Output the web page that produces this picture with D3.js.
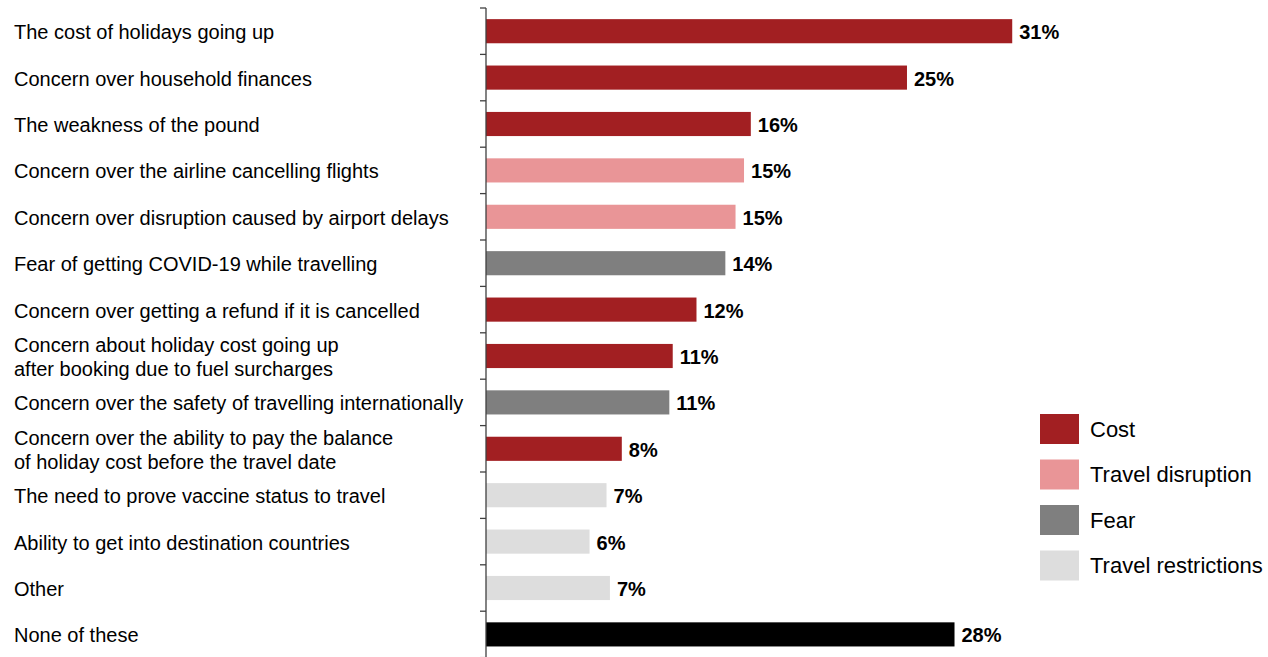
<!DOCTYPE html>
<html>
<head>
<meta charset="utf-8">
<script src="https://cdn.jsdelivr.net/npm/d3@7"></script>
<style>
  html, body { margin: 0; padding: 0; background: #fff; }
  svg { display: block; font-family: "Liberation Sans", Arial, sans-serif; }
</style>
</head>
<body>
<svg id="chart" width="1268" height="657"></svg>
<script>
// Reasons for holiday worries, share of respondents
const categories = [
  "The cost of holidays going up",
  "Concern over household finances",
  "The weakness of the pound",
  "Concern over the airline cancelling flights",
  "Concern over disruption caused by airport delays",
  "Fear of getting COVID-19 while travelling",
  "Concern over getting a refund if it is cancelled",
  "Concern about holiday cost going up\nafter booking due to fuel surcharges",
  "Concern over the safety of travelling internationally",
  "Concern over the ability to pay the balance\nof holiday cost before the travel date",
  "The need to prove vaccine status to travel",
  "Ability to get into destination countries",
  "Other",
  "None of these"
];
const values = [0.310, 0.248, 0.156, 0.152, 0.147, 0.141, 0.124, 0.110, 0.108, 0.080, 0.071, 0.061, 0.073, 0.276];
const groups = ["Cost", "Cost", "Cost", "Travel disruption", "Travel disruption", "Fear", "Cost", "Cost", "Fear", "Cost",
                "Travel restrictions", "Travel restrictions", "Travel restrictions", "None"];
const legendGroups = ["Cost", "Travel disruption", "Fear", "Travel restrictions"];
const groupColors = ["#A21F22", "#E99597", "#7F7F7F", "#DDDDDD", "#000000"];

const svg = d3.select("#chart");
const axisX = 486;

const y = d3.scaleBand()
  .domain(categories)
  .range([8, 657.6])
  .paddingInner(0.48)
  .paddingOuter(0.24);

const x = d3.scaleLinear()
  .domain([0, 0.4])
  .range([axisX, axisX + 679]);

const color = d3.scaleOrdinal()
  .domain(["Cost", "Travel disruption", "Fear", "Travel restrictions", "None"])
  .range(groupColors);

const rows = categories.map((c, i) => ({ cat: c, value: values[i], group: groups[i] }));

// bars
svg.append("g").selectAll("rect")
  .data(rows)
  .join("rect")
  .attr("x", x(0))
  .attr("y", d => y(d.cat))
  .attr("width", d => x(d.value) - x(0))
  .attr("height", y.bandwidth())
  .attr("fill", d => color(d.group));

// value labels
const fmt = d3.format(".0%");
svg.append("g").selectAll("text")
  .data(rows)
  .join("text")
  .attr("x", d => x(d.value) + 7)
  .attr("y", d => y(d.cat) + y.bandwidth() / 2 + 1)
  .attr("dy", "0.35em")
  .attr("font-size", 20)
  .attr("font-weight", "bold")
  .attr("fill", "#000")
  .text(d => fmt(d.value));

// category axis: vertical line with ticks between categories
const step = y.step();
const tickYs = d3.range(categories.length + 1).map(i => y.range()[0] + i * step);
const axisG = svg.append("g");
axisG.append("line")
  .attr("x1", axisX).attr("x2", axisX)
  .attr("y1", y.range()[0]).attr("y2", y.range()[1])
  .attr("stroke", "#404040").attr("stroke-width", 1.3);
axisG.selectAll("line.tick")
  .data(tickYs)
  .join("line")
  .attr("class", "tick")
  .attr("x1", axisX - 6).attr("x2", axisX)
  .attr("y1", d => d).attr("y2", d => d)
  .attr("stroke", "#404040").attr("stroke-width", 1.3);

// category labels (left aligned, multi-line where needed)
const labelG = svg.append("g");
rows.forEach(d => {
  const lines = d.cat.split("\n");
  const cy = y(d.cat) + y.bandwidth() / 2 + 1;
  const lh = 24;
  const t = labelG.append("text")
    .attr("x", 14)
    .attr("font-size", 20)
    .attr("fill", "#000");
  lines.forEach((ln, k) => {
    t.append("tspan")
      .attr("x", 14)
      .attr("y", cy + (k - (lines.length - 1) / 2) * lh)
      .attr("dy", "0.35em")
      .text(ln);
  });
});

// legend
const legend = svg.append("g").attr("transform", "translate(1040,414)");
const li = legend.selectAll("g")
  .data(legendGroups)
  .join("g")
  .attr("transform", (d, i) => `translate(0,${i * 45.5})`);
li.append("rect")
  .attr("width", 39).attr("height", 30)
  .attr("fill", d => color(d));
li.append("text")
  .attr("x", 50).attr("y", 15)
  .attr("dy", "0.35em")
  .attr("font-size", 22)
  .attr("fill", "#000")
  .text(d => d);
</script>
</body>
</html>
